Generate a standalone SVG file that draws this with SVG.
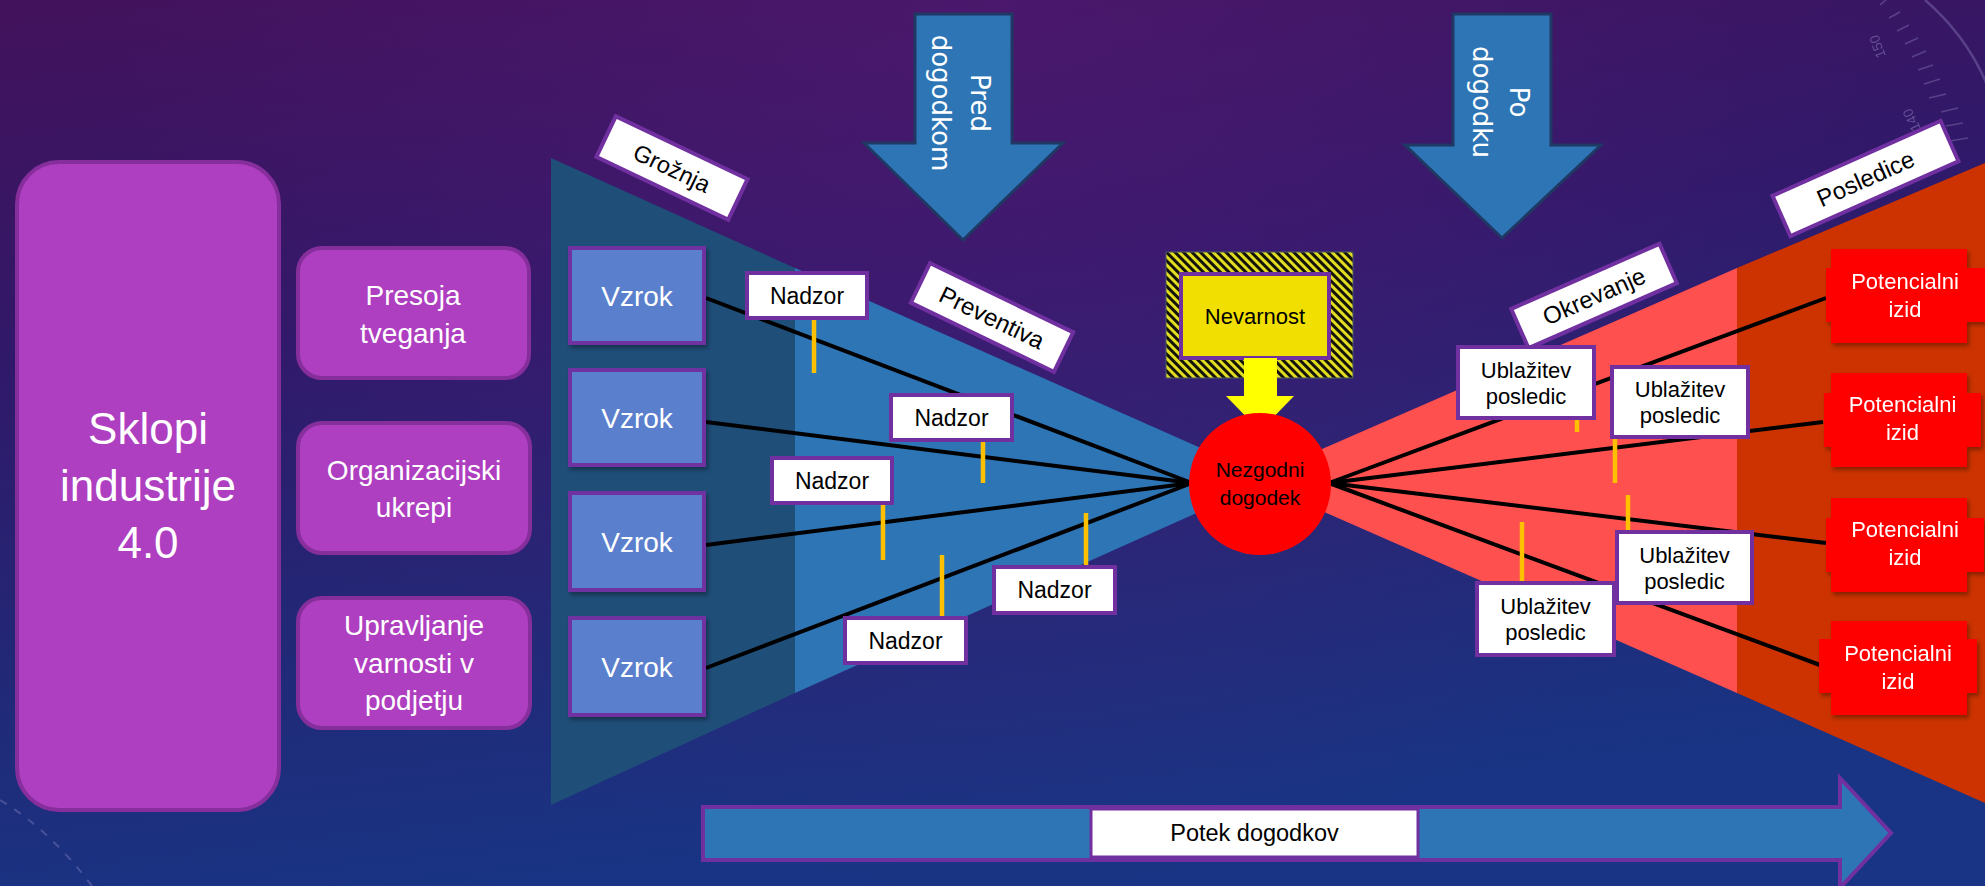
<svg xmlns="http://www.w3.org/2000/svg" width="1985" height="886" viewBox="0 0 1985 886">
<defs>
  <linearGradient id="bg" x1="0" y1="0" x2="0.25" y2="1">
    <stop offset="0" stop-color="#43125C"/>
    <stop offset="0.4" stop-color="#30196A"/>
    <stop offset="0.75" stop-color="#202A78"/>
    <stop offset="1" stop-color="#193484"/>
  </linearGradient>
  <radialGradient id="glow" cx="1000" cy="0" r="900" gradientUnits="userSpaceOnUse">
    <stop offset="0" stop-color="#5A1C7A" stop-opacity="0.45"/>
    <stop offset="1" stop-color="#5A1C7A" stop-opacity="0"/>
  </radialGradient>
  <pattern id="hatch" width="6" height="6" patternUnits="userSpaceOnUse" patternTransform="rotate(-45)">
    <rect width="6" height="6" fill="#141408"/>
    <rect width="3" height="6" fill="#E2DC22"/>
  </pattern>
  <filter id="sh" x="-10%" y="-10%" width="130%" height="130%">
    <feDropShadow dx="2" dy="3" stdDeviation="2" flood-color="#000" flood-opacity="0.35"/>
  </filter>
  <style>
    .t{font-family:"Liberation Sans",Arial,sans-serif;text-anchor:middle}
    .v{font-family:"DejaVu Sans",Verdana,sans-serif;text-anchor:middle;fill:#fff;font-size:26px}
    .big{fill:#AE3FC0;stroke:#862E9C;stroke-width:4}
    .vz{fill:#5A7FCC;stroke:#7030A0;stroke-width:4}
    .lab{fill:#fff;stroke:#7030A0;stroke-width:4}
    .pot{fill:#FF0000}
    .wt{fill:#fff}
    .bk{fill:#000}
    .ln{stroke:#000;stroke-width:4;fill:none}
    .yl{stroke:#FFC000;stroke-width:4.5;fill:none}
    .deco{stroke:#9A90C8;fill:none;opacity:0.35}
  </style>
</defs>

<!-- background -->
<rect width="1985" height="886" fill="url(#bg)"/>
<rect width="1985" height="886" fill="url(#glow)"/>
<g id="decor">
  <path class="deco" d="M1925,0 A231,231 0 0 1 1996,110" stroke-width="2.5"/>
  <g class="deco" stroke-width="1.5">
    <line x1="1880" y1="5" x2="1888" y2="-2"/>
    <line x1="1889" y1="18" x2="1900" y2="12"/>
    <line x1="1897" y1="31" x2="1909" y2="25"/>
    <line x1="1905" y1="44" x2="1918" y2="38"/>
    <line x1="1912" y1="57" x2="1926" y2="51"/>
    <line x1="1918" y1="70" x2="1933" y2="65"/>
    <line x1="1924" y1="84" x2="1940" y2="79"/>
    <line x1="1929" y1="98" x2="1946" y2="94"/>
    <line x1="1941" y1="112" x2="1958" y2="108"/>
    <line x1="1946" y1="126" x2="1963" y2="123"/>
    <line x1="1950" y1="141" x2="1968" y2="138"/>
  </g>
  <text class="t" x="0" y="0" font-size="14" fill="#9A90C8" opacity="0.45" transform="translate(1882,45) rotate(-110)">150</text>
  <text class="t" x="0" y="0" font-size="14" fill="#9A90C8" opacity="0.45" transform="translate(1916,118) rotate(-115)">140</text>
  <path class="deco" d="M0,800 Q50,830 92,886" stroke-width="2" stroke-dasharray="8 9"/>
</g>

<!-- bow tie shapes -->
<g id="threat-side">
  <polygon points="551,158 795,268 795,693 551,805" fill="#1F4E79"/>
  <polygon points="795,268 1230,461 1230,498 795,693" fill="#2E75B6"/>
</g>
<g id="consequence-side">
  <polygon points="1290,463 1737,268 1737,693 1290,497" fill="#FF5050"/>
  <polygon points="1737,268 1985,163 1985,803 1737,693" fill="#CC3300"/>
</g>

<!-- connectors -->
<g id="connectors">
  <line class="ln" x1="706" y1="298" x2="1192" y2="483"/>
  <line class="ln" x1="706" y1="422" x2="1192" y2="483"/>
  <line class="ln" x1="706" y1="545" x2="1192" y2="483"/>
  <line class="ln" x1="706" y1="668" x2="1192" y2="483"/>
  <line class="ln" x1="1329" y1="483" x2="1826" y2="298"/>
  <line class="ln" x1="1329" y1="483" x2="1823" y2="422"/>
  <line class="ln" x1="1329" y1="483" x2="1826" y2="543"/>
  <line class="ln" x1="1329" y1="483" x2="1820" y2="665"/>
  <line class="yl" x1="814" y1="318" x2="814" y2="373"/>
  <line class="yl" x1="983" y1="440" x2="983" y2="483"/>
  <line class="yl" x1="883" y1="503" x2="883" y2="560"/>
  <line class="yl" x1="942" y1="618" x2="942" y2="555"/>
  <line class="yl" x1="1086" y1="567" x2="1086" y2="513"/>
  <line class="yl" x1="1577" y1="418" x2="1577" y2="432"/>
  <line class="yl" x1="1615" y1="437" x2="1615" y2="483"/>
  <line class="yl" x1="1628" y1="532" x2="1628" y2="495"/>
  <line class="yl" x1="1522" y1="583" x2="1522" y2="522"/>
</g>

<!-- left purple blocks -->
<g id="sklopi">
  <rect class="big" x="17" y="162" width="262" height="648" rx="42"/>
  <text class="t wt" font-size="44"><tspan x="148" y="444">Sklopi</tspan><tspan x="148" y="501">industrije</tspan><tspan x="148" y="558">4.0</tspan></text>
</g>
<g id="presoja">
  <rect class="big" x="298" y="248" width="231" height="130" rx="24"/>
  <text class="t wt" font-size="28"><tspan x="413" y="305">Presoja</tspan><tspan x="413" y="343">tveganja</tspan></text>
</g>
<g id="organizacijski">
  <rect class="big" x="298" y="423" width="232" height="130" rx="24"/>
  <text class="t wt" font-size="28"><tspan x="414" y="480">Organizacijski</tspan><tspan x="414" y="517">ukrepi</tspan></text>
</g>
<g id="upravljanje">
  <rect class="big" x="298" y="598" width="232" height="130" rx="24"/>
  <text class="t wt" font-size="28"><tspan x="414" y="635">Upravljanje</tspan><tspan x="414" y="673">varnosti v</tspan><tspan x="414" y="710">podjetju</tspan></text>
</g>

<!-- causes -->
<g id="vzrok1"><rect class="vz" x="570" y="248" width="134" height="95" filter="url(#sh)"/><text class="t wt" x="637" y="305.5" font-size="28">Vzrok</text></g>
<g id="vzrok2"><rect class="vz" x="570" y="370" width="134" height="95" filter="url(#sh)"/><text class="t wt" x="637" y="427.5" font-size="28">Vzrok</text></g>
<g id="vzrok3"><rect class="vz" x="570" y="493" width="134" height="97" filter="url(#sh)"/><text class="t wt" x="637" y="551.5" font-size="28">Vzrok</text></g>
<g id="vzrok4"><rect class="vz" x="570" y="618" width="134" height="97" filter="url(#sh)"/><text class="t wt" x="637" y="676.5" font-size="28">Vzrok</text></g>

<!-- controls -->
<g id="nadzor1"><rect class="lab" x="747" y="273" width="120" height="45"/><text class="t bk" x="807" y="303.5" font-size="23">Nadzor</text></g>
<g id="nadzor2"><rect class="lab" x="891" y="395" width="121" height="45"/><text class="t bk" x="951.5" y="425.5" font-size="23">Nadzor</text></g>
<g id="nadzor3"><rect class="lab" x="772" y="458" width="120" height="45"/><text class="t bk" x="832" y="488.5" font-size="23">Nadzor</text></g>
<g id="nadzor4"><rect class="lab" x="845" y="618" width="121" height="45"/><text class="t bk" x="905.5" y="648.5" font-size="23">Nadzor</text></g>
<g id="nadzor5"><rect class="lab" x="994" y="567" width="121" height="46"/><text class="t bk" x="1054.5" y="598" font-size="23">Nadzor</text></g>

<!-- rotated labels -->
<g id="groznja" transform="translate(672,168) rotate(25.5)"><rect class="lab" x="-73" y="-22.5" width="146" height="45"/><text class="t bk" x="0" y="8.5" font-size="23.5">Grožnja</text></g>
<g id="preventiva" transform="translate(992,317.5) rotate(25.8)"><rect class="lab" x="-79.5" y="-22" width="159" height="44"/><text class="t bk" x="0" y="8.5" font-size="24">Preventiva</text></g>
<g id="okrevanje" transform="translate(1594,296) rotate(-23.7)"><rect class="lab" x="-81" y="-21.5" width="162" height="43"/><text class="t bk" x="0" y="8.5" font-size="24">Okrevanje</text></g>
<g id="posledice" transform="translate(1865.5,178.5) rotate(-24)"><rect class="lab" x="-92" y="-22" width="184" height="44"/><text class="t bk" x="0" y="8.5" font-size="24">Posledice</text></g>

<!-- top arrows -->
<g id="pred-dogodkom">
  <path d="M915,14 H1012 V143 H1063 L963,240 L864,143 H915 Z" fill="#2E75B6" stroke="#1F3864" stroke-width="3"/>
  <text class="v" transform="translate(963,103) rotate(90)"><tspan x="0" y="-8">Pred</tspan><tspan x="0" y="31">dogodkom</tspan></text>
</g>
<g id="po-dogodku">
  <path d="M1453,14 H1551 V145 H1601 L1502,238 L1405,145 H1453 Z" fill="#2E75B6" stroke="#1F3864" stroke-width="3"/>
  <text class="v" transform="translate(1502,102) rotate(90)"><tspan x="0" y="-8">Po</tspan><tspan x="0" y="29">dogodku</tspan></text>
</g>

<!-- hazard -->
<g id="nevarnost">
  <rect x="1166" y="252" width="187" height="126" fill="url(#hatch)" stroke="#4A5A6A" stroke-width="1"/>
  <rect x="1181" y="274" width="148" height="84" fill="#F0DF00" stroke="#7030A0" stroke-width="4"/>
  <text class="t bk" x="1255" y="323.5" font-size="22">Nevarnost</text>
  <path d="M1244,358 H1277 V396 H1294 L1260,431 L1226,396 H1244 Z" fill="#FFFF00"/>
</g>

<!-- top event -->
<g id="nezgodni-dogodek">
  <circle cx="1260" cy="484" r="71" fill="#FF0000"/>
  <text class="t bk" font-size="21"><tspan x="1260" y="477">Nezgodni</tspan><tspan x="1260" y="505">dogodek</tspan></text>
</g>

<!-- mitigation -->
<g id="ublazitev1"><rect class="lab" x="1458" y="347" width="136" height="71"/><text class="t bk" font-size="22"><tspan x="1526" y="377.5">Ublažitev</tspan><tspan x="1526" y="403.5">posledic</tspan></text></g>
<g id="ublazitev2"><rect class="lab" x="1612" y="367" width="136" height="70"/><text class="t bk" font-size="22"><tspan x="1680" y="397">Ublažitev</tspan><tspan x="1680" y="423">posledic</tspan></text></g>
<g id="ublazitev3"><rect class="lab" x="1617" y="532" width="135" height="71"/><text class="t bk" font-size="22"><tspan x="1684.5" y="562.5">Ublažitev</tspan><tspan x="1684.5" y="588.5">posledic</tspan></text></g>
<g id="ublazitev4"><rect class="lab" x="1477" y="583" width="137" height="72"/><text class="t bk" font-size="22"><tspan x="1545.5" y="614">Ublažitev</tspan><tspan x="1545.5" y="640">posledic</tspan></text></g>

<!-- outcomes -->
<g id="izid1" filter="url(#sh)"><rect class="pot" x="1831" y="249" width="136" height="94"/><rect class="pot" x="1826" y="268" width="159" height="54"/><text class="t wt" font-size="22"><tspan x="1905" y="288.5">Potencialni</tspan><tspan x="1905" y="316.5">izid</tspan></text></g>
<g id="izid2" filter="url(#sh)"><rect class="pot" x="1831" y="373" width="136" height="94"/><rect class="pot" x="1824" y="393" width="157" height="54"/><text class="t wt" font-size="22"><tspan x="1902.5" y="412">Potencialni</tspan><tspan x="1902.5" y="440">izid</tspan></text></g>
<g id="izid3" filter="url(#sh)"><rect class="pot" x="1831" y="498" width="136" height="94"/><rect class="pot" x="1826" y="518" width="158" height="54"/><text class="t wt" font-size="22"><tspan x="1905" y="537">Potencialni</tspan><tspan x="1905" y="565">izid</tspan></text></g>
<g id="izid4" filter="url(#sh)"><rect class="pot" x="1831" y="621" width="136" height="94"/><rect class="pot" x="1819" y="639" width="158" height="54"/><text class="t wt" font-size="22"><tspan x="1898" y="660.5">Potencialni</tspan><tspan x="1898" y="688.5">izid</tspan></text></g>

<!-- timeline arrow -->
<g id="potek-dogodkov">
  <path d="M703,807 H1840 V778 L1891,833 L1840,888 V860 H703 Z" fill="#2E75B6" stroke="#7030A0" stroke-width="4"/>
  <rect x="1091" y="809" width="327" height="48" fill="#fff" stroke="#7030A0" stroke-width="3"/>
  <text class="t bk" x="1254.5" y="841" font-size="23.5">Potek dogodkov</text>
</g>
</svg>
